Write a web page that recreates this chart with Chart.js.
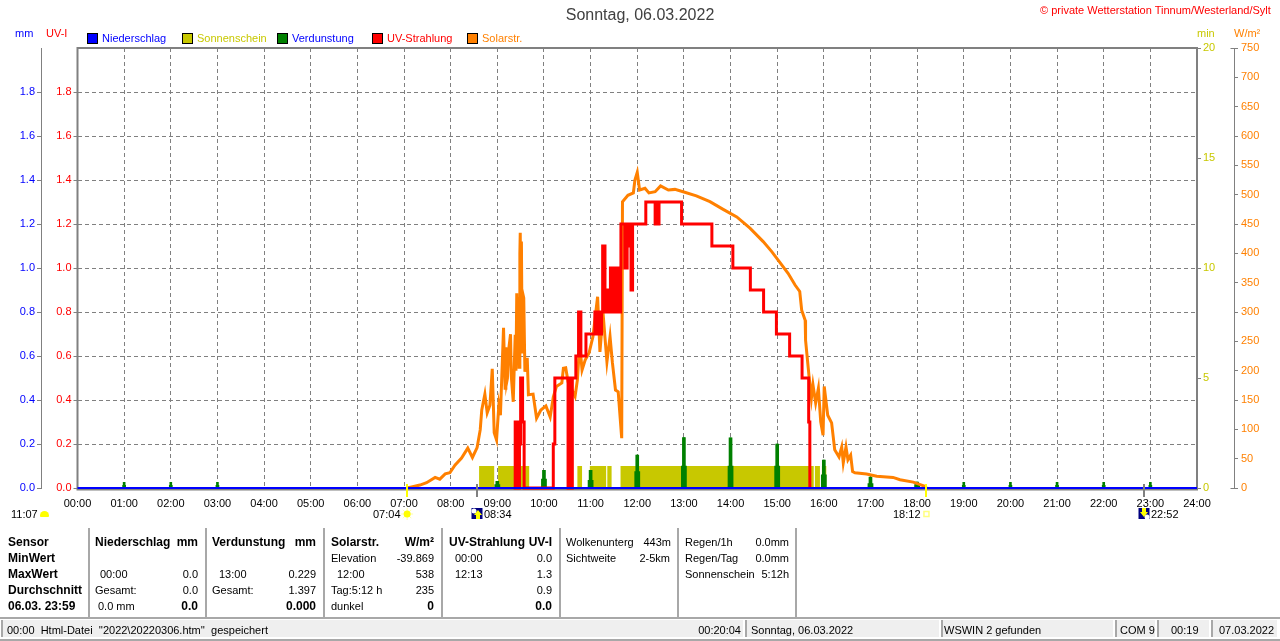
<!DOCTYPE html>
<html lang="de">
<head>
<meta charset="utf-8">
<title>Sonntag, 06.03.2022</title>
<script src="https://cdn.jsdelivr.net/npm/chart.js@4"></script>
<style>
html,body{margin:0;padding:0;background:#fff;overflow:hidden;width:1280px;height:641px}
#wrap{position:relative;width:1280px;height:641px;font-family:"Liberation Sans",Arial,sans-serif;font-size:11px;color:#000}
canvas{position:absolute;left:0;top:0}
.t{position:absolute;white-space:pre;line-height:14px;height:14px}
.b{font-weight:bold;font-size:12px}
.sep{position:absolute;background:#a8a8a8}
.cell{position:absolute;top:620px;height:17px;background:#efefef;border-left:2px solid #a8a8a8;box-sizing:border-box}
.box{position:absolute;top:33px;width:9px;height:9px;border:1px solid #000}
</style>
</head>
<body>
<div id="wrap"><canvas id="c" width="1280" height="641"></canvas></div>
<script>
// ---- data (minutes since midnight / values) ----
const chartTitle = 'Sonntag, 06.03.2022';
const seriesNames = ['Niederschlag','Sonnenschein','Verdunstung','UV-Strahlung','Solarstr.'];
const rainTimes = [0,1440];
const rainValues = [0,0];
const sunTimes = [516.5,536,541,581,643,649,659,680,681.5,687,698.5,947,948.5,955,957.5,963.5];
const sunValues = [1,0,1,0,1,0,1,0,1,0,1,0,1,0,1,0];
const evapTimes = [60,59.35,60.65,120,119.35,120.65,180,179.35,180.65,
  538,539.35,540.65,542,
  598,599.35,600.65,602, 658,659.35,660.65,662, 718,719.35,720.65,722,
  778,779.35,780.65,782, 838,839.35,840.65,842, 898,899.35,900.65,902,
  958,959.35,960.65,962, 1018,1019.35,1020.65,1022, 1078,1079.35,1080.65,1082,
  1140,1139.35,1140.65,1200,1199.35,1200.65,1260,1259.35,1260.65,1320,1319.35,1320.65,1380,1379.35,1380.65];
const evapValues = [0.026,0.012,0.012,0.026,0.012,0.012,0.026,0.012,0.012,
  0.015,0.03,0.03,0.015,
  0.04,0.08,0.08,0.04, 0.035,0.08,0.08,0.035, 0.075,0.15,0.15,0.075,
  0.1,0.229,0.229,0.1, 0.1,0.228,0.228,0.1, 0.1,0.2,0.2,0.1,
  0.06,0.127,0.127,0.06, 0.02,0.05,0.05,0.02, 0.015,0.027,0.027,0.015,
  0.026,0.012,0.012,0.026,0.012,0.012,0.026,0.012,0.012,0.026,0.012,0.012,0.026,0.012,0.012];
const uvTimes = [561,563,566.5,568.5,570,572.5,574.5,612,614,631,633,635,636.5,641,644.5,647.5,654,665.5,668,670.5,672.5,674,675.5,678.5,681,684,685.5,688,689,691,692,693.5,694,695,696.5,698.5,699,704,707,708.5,709.5,711,712,714,731,743,745,746,748,777,816,843,865.5,882.5,899,916,932,940.5,942];
const uvValues = [0,0.3,0,0.2,0.5,0.3,0,0.2,0.5,0,0.5,0,0.5,0.6,0.8,0.6,0.7,0.8,0.7,0.8,0.7,0.8,1.1,0.8,0.9,0.8,1.0,0.8,1.0,0.8,1.0,0.8,1.0,0.9,0.8,1.0,1.2,1.0,1.2,1.1,1.2,1.1,0.9,1.2,1.3,1.2,1.3,1.2,1.3,1.2,1.1,1.0,0.9,0.8,0.7,0.6,0.5,0.3,0];
const solarTimes = [424,431,440.5,449,460,466,473,479,485.5,494,502,508,514,518,520,524,527,530.5,533.5,536,539,542,544,548,550,551,552,553,555,557,558,560.5,563,564,565,566,567,568,569,569.5,570.5,571,572,573,574,575.5,578.5,580,586,590.5,596,602.5,608,612,616,623,625,628,631,640,643,646,649,653,658,663,669,672,676,681,685,688,692,695.5,700,701,708,715,717,720,723,730,735,743,750,760,768.5,779,796,813.5,830.5,848,865,882,893,901,914,923,929,931.5,936,936.5,941,944,946,949.5,953,956,959,960.5,965,970,974,979.5,983,985,988.5,991,994.5,997,1000,1015,1028,1049,1058,1075,1090,1092];
const solarValues = [0,2,5,9,18,15,24,26,39,51,68,52,69,99,133,160,128,141,203,94,82,141,124,273,170,240,180,187,240,262,190,147,261,200,332,240,325,206,400,435,240,420,232,330,324,198,222,159,160,119,133,140,121,155,173,179,204,205,181,156,184,247,201,218,230,258,326,232,298,215,258,214,167,164,85,488,499,503,525,538,508,511,503,505,515,508,509,505,498,488,475,462,443,420,403,389,366,346,335,303,286,252,190,153,176,145,170,113,90,173,124,111,65,53,70,43,70,48,56,28,26,24,20,18,14,10,3,0];
const sunriseTime = 424, moonriseTime = 514, sunsetTime = 1092, moonsetTime = 1372;
const hourMax = 1440, hourStep = 60;
const mmMax = 2, uvMax = 2, minMax = 20, solarMax = 750;

const colors = {rain:'#0000ff',sun:'#c8c800',evap:'#008000',uv:'#ff0000',solar:'#ff8000',grid:'#808080'};
const pairs = (xs,ys) => xs.map((x,i)=>({x,y:ys[i]}));
const two = v => String(v).padStart(2,'0');
const hhmm = m => two(Math.floor(m/60))+':'+two(m%60);

Chart.defaults.font.family = '"Liberation Sans",Arial,sans-serif';
Chart.defaults.font.size = 11;
Chart.defaults.color = '#000';

function fixed(size,prop){return function(s){s[prop]=size;};}

const frame = {
  id:'frame',
  beforeDatasetsDraw(ch){
    const a=ch.chartArea,c=ch.ctx;
    c.save();c.strokeStyle=colors.grid;c.lineWidth=2;
    c.strokeRect(a.left,a.top,a.right-a.left,a.bottom-a.top+1.5);
    c.restore();
  },
  afterDraw(ch){
    const c=ch.ctx,a=ch.chartArea,x=ch.scales.x;
    c.save();
    // day markers under the axis
    [[sunriseTime,'#ffff00'],[moonriseTime,'#808080'],[sunsetTime,'#ffff00'],[moonsetTime,'#808080']].forEach(([t,col])=>{
      c.fillStyle=col;c.fillRect(Math.round(x.getPixelForValue(t))-1,a.bottom-4,2,13);
    });
    // sunrise icon
    let px=x.getPixelForValue(sunriseTime),py=514;
    c.strokeStyle='#ffffa0';c.lineWidth=1;
    for(let i=0;i<8;i++){const k=i*Math.PI/4;c.beginPath();c.moveTo(px+3*Math.cos(k),py+3*Math.sin(k));c.lineTo(px+6*Math.cos(k),py+6*Math.sin(k));c.stroke();}
    c.fillStyle='#ffff00';c.beginPath();c.arc(px,py,3.5,0,7);c.fill();
    // sunset icon
    px=x.getPixelForValue(sunsetTime);
    c.strokeStyle='#ffff80';c.lineWidth=1.5;c.strokeRect(px-2.5,511.5,5,5);
    // moon icons
    [[moonriseTime,true],[moonsetTime,false]].forEach(([t,up])=>{
      const m=Math.round(x.getPixelForValue(t));
      c.fillStyle='#000080';c.fillRect(m-5.5,508,11,11);
      c.fillStyle='#ffffff';c.beginPath();c.arc(up?m-3:m+3,up?511:517,2.5,0,7);c.fill();
      c.fillStyle='#ffff00';c.beginPath();
      if(up){c.moveTo(m+1,510);c.lineTo(m+5,515);c.lineTo(m+3,515);c.lineTo(m+3,519);c.lineTo(m-1,519);c.lineTo(m-1,515);c.lineTo(m-3,515);}
      else{c.moveTo(m,517);c.lineTo(m-4,512);c.lineTo(m-2,512);c.lineTo(m-2,508);c.lineTo(m+2,508);c.lineTo(m+2,512);c.lineTo(m+4,512);}
      c.closePath();c.fill();
    });
    // caps on the outer right axis
    c.strokeStyle=colors.grid;c.lineWidth=1;
    const o=ch.scales.ySolar,lx=Math.round(o.left)+.5;
    [o.top,o.bottom].forEach(y=>{c.beginPath();c.moveTo(lx-4,Math.round(y)+.5);c.lineTo(lx,Math.round(y)+.5);c.stroke();});
    c.restore();
  }
};
const tickCol = max => c => (c.tick && c.tick.value>=max) ? 'transparent' : colors.grid;

new Chart(document.getElementById('c'),{
  type:'line',
  data:{datasets:[
    {label:seriesNames[0],data:pairs(rainTimes,rainValues),yAxisID:'yMm',borderColor:colors.rain,borderWidth:2,pointRadius:0,order:1,clip:3},
    {label:seriesNames[3],data:pairs(uvTimes,uvValues),yAxisID:'yUv',borderColor:colors.uv,borderWidth:3,stepped:true,pointRadius:0,order:2,clip:3,borderJoinStyle:'miter'},
    {label:seriesNames[4],data:pairs(solarTimes,solarValues),yAxisID:'ySolar',borderColor:colors.solar,borderWidth:3,pointRadius:0,order:3,clip:3,borderJoinStyle:'miter'},
    {type:'bar',label:seriesNames[2],data:pairs(evapTimes,evapValues),yAxisID:'yMm',backgroundColor:colors.evap,barThickness:2,order:4},
    {label:seriesNames[1],data:pairs(sunTimes,sunValues),yAxisID:'yMin',stepped:true,borderWidth:0,borderColor:colors.sun,backgroundColor:colors.sun,fill:'origin',pointRadius:0,order:5}
  ]},
  plugins:[frame],
  options:{
    responsive:false,animation:false,devicePixelRatio:1,
    parsing:{xAxisKey:'x',yAxisKey:'y'},
    plugins:{
      legend:{display:false},tooltip:{enabled:false},
      title:{display:true,text:chartTitle,color:'#404040',font:{size:16,weight:'normal'},padding:{top:6,bottom:22.8}}
    },
    layout:{padding:0},
    scales:{
      x:{type:'linear',min:0,max:hourMax,offset:false,afterFit:fixed(153,'height'),
        ticks:{stepSize:hourStep,autoSkip:false,maxRotation:0,padding:9,color:'#000',font:{size:11},callback:v=>hhmm(v)},
        grid:{color:colors.grid,drawTicks:false,offset:false},border:{display:false,dash:[4,3]}},
      yMm:{position:'left',weight:1,min:0,max:mmMax,afterFit:fixed(41,'width'),
        ticks:{stepSize:0.2,padding:2,color:colors.rain,callback:v=>v>=mmMax?'':v.toFixed(1)},
        grid:{drawOnChartArea:false,tickLength:4,tickColor:tickCol(mmMax)},border:{display:true,color:colors.grid,width:1}},
      yUv:{position:'left',weight:0,min:0,max:uvMax,afterFit:fixed(36.5,'width'),
        ticks:{stepSize:0.2,padding:2,color:colors.uv,callback:v=>v>=uvMax?'':v.toFixed(1)},
        grid:{color:c=>c.tick&&(c.tick.value===0||c.tick.value>=uvMax)?'transparent':colors.grid,tickColor:tickCol(uvMax),tickLength:4},border:{display:false,dash:[4,3]}},
      yMin:{position:'right',weight:0,min:0,max:minMax,afterFit:fixed(37,'width'),
        ticks:{stepSize:5,padding:2,color:colors.sun,callback:v=>String(v)},
        grid:{drawOnChartArea:false,tickLength:4,tickColor:colors.grid},border:{display:false}},
      ySolar:{position:'right',weight:1,min:0,max:solarMax,afterFit:fixed(46,'width'),
        ticks:{stepSize:50,autoSkip:false,padding:3,color:colors.solar,callback:v=>String(v)},
        grid:{drawOnChartArea:false,tickLength:4,tickColor:colors.grid},border:{display:true,color:colors.grid,width:1}}
    }
  }
});

// ---- text and panel around the chart ----
const wrap = document.getElementById('wrap');
function text(x,y,s,opt){
  opt=opt||{};
  const d=document.createElement('div');
  d.className='t'+(opt.b?' b':'');
  d.textContent=s;
  d.style.top=(y-7)+'px';
  if(opt.r) d.style.right=(1280-x)+'px'; else d.style.left=x+'px';
  if(opt.c) d.style.color=opt.c;
  if(opt.s) d.style.fontSize=opt.s+'px';
  wrap.appendChild(d);
}
text(1040,10,'\u00a9 private Wetterstation Tinnum/Westerland/Sylt',{c:colors.uv});
text(15,33,'mm',{c:colors.rain});
text(46,33,'UV-I',{c:colors.uv});
text(1197,33,'min',{c:colors.sun});
text(1234,33,'W/m\u00b2',{c:colors.solar});
// legend
[[87,colors.rain,colors.rain],[182,colors.sun,colors.sun],[277,colors.evap,colors.rain],[372,colors.uv,colors.uv],[467,colors.solar,colors.solar]].forEach(([x,box,col],i)=>{
  const b=document.createElement('div');b.className='box';b.style.left=x+'px';b.style.background=box;wrap.appendChild(b);
  text(x+15,38,seriesNames[i],{c:col});
});
// sun / moon times
text(11,514,'11:07');text(373,514,'07:04');text(484,514,'08:34');text(893,514,'18:12');text(1151,514,'22:52');
const capIcon=document.createElement('div');
capIcon.style.cssText='position:absolute;left:40px;top:511px;width:9px;height:6px;background:#ffff00;border-radius:5px 5px 1px 1px';
wrap.appendChild(capIcon);
// table rows
const r=[542,558,574,590,606];
const panel=[
 [8,r[0],'Sensor',1],[8,r[1],'MinWert',1],[8,r[2],'MaxWert',1],[8,r[3],'Durchschnitt',1],[8,r[4],'06.03. 23:59',1],
 [95,r[0],'Niederschlag',1],[100,r[2],'00:00'],[95,r[3],'Gesamt:'],[98,r[4],'0.0 mm'],
 [212,r[0],'Verdunstung',1],[219,r[2],'13:00'],[212,r[3],'Gesamt:'],
 [331,r[0],'Solarstr.',1],[331,r[1],'Elevation'],[337,r[2],'12:00'],[331,r[3],'Tag:5:12 h'],[331,r[4],'dunkel'],
 [449,r[0],'UV-Strahlung',1],[455,r[1],'00:00'],[455,r[2],'12:13'],
 [566,r[0],'Wolkenunterg'],[566,r[1],'Sichtweite'],
 [685,r[0],'Regen/1h'],[685,r[1],'Regen/Tag'],[685,r[2],'Sonnenschein']
];
const panelRight=[
 [198,r[0],'mm',1],[198,r[2],'0.0'],[198,r[3],'0.0'],[198,r[4],'0.0',1],
 [316,r[0],'mm',1],[316,r[2],'0.229'],[316,r[3],'1.397'],[316,r[4],'0.000',1],
 [434,r[0],'W/m\u00b2',1],[434,r[1],'-39.869'],[434,r[2],'538'],[434,r[3],'235'],[434,r[4],'0',1],
 [552,r[0],'UV-I',1],[552,r[1],'0.0'],[552,r[2],'1.3'],[552,r[3],'0.9'],[552,r[4],'0.0',1],
 [671,r[0],'443m'],[670,r[1],'2-5km'],
 [789,r[0],'0.0mm'],[789,r[1],'0.0mm'],[789,r[2],'5:12h']
];
panel.forEach(p=>text(p[0],p[1],p[2],{b:p[3]}));
panelRight.forEach(p=>text(p[0],p[1],p[2],{b:p[3],r:1}));
[88,205,323,441,559,677,795].forEach(x=>{
  const s=document.createElement('div');s.className='sep';
  s.style.cssText+='left:'+x+'px;top:528px;width:2px;height:89px';wrap.appendChild(s);
});
const rule=(y,h,col)=>{const s=document.createElement('div');s.className='sep';s.style.cssText+='left:0;top:'+y+'px;width:1280px;height:'+h+'px;background:'+col;wrap.appendChild(s);};
rule(617,2,'#a8a8a8');rule(639,2,'#a8a8a8');
// status bar
[[1,743],[745,939],[941,1113],[1115,1155],[1157,1209],[1211,1277]].forEach(([a,b])=>{
  const s=document.createElement('div');s.className='cell';s.style.left=a+'px';s.style.width=(b-a)+'px';wrap.appendChild(s);
});
text(7,630,'00:00  Html-Datei  \'\'2022\\20220306.htm\'\'  gespeichert');
text(741,630,'00:20:04',{r:1});
text(751,630,'Sonntag, 06.03.2022');
text(944,630,'WSWIN 2 gefunden');
text(1120,630,'COM 9');
text(1171,630,'00:19');
text(1219,630,'07.03.2022');
</script>
</body>
</html>
